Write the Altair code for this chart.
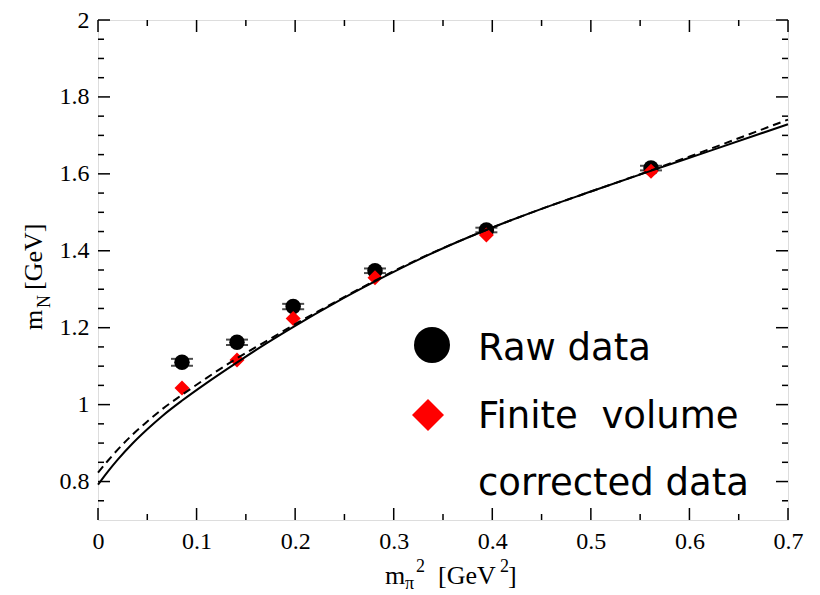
import altair as alt
import pandas as pd

# ---- data ----
m_pi2 = [0.0852, 0.141, 0.198, 0.281, 0.394, 0.561]
raw_mN = [1.110, 1.162, 1.255, 1.348, 1.454, 1.615]
raw_err = [0.009, 0.007, 0.007, 0.006, 0.006, 0.006]
fv_mN = [1.043, 1.116, 1.224, 1.330, 1.441, 1.607]

curve_x = [0.000, 0.010, 0.020, 0.035, 0.050, 0.065, 0.085, 0.110, 0.140, 0.170,
           0.200, 0.240, 0.280, 0.330, 0.390, 0.450, 0.500, 0.560, 0.620, 0.700]
solid_fit = [0.792, 0.826, 0.857, 0.899, 0.936, 0.970, 1.010, 1.056, 1.108, 1.158,
             1.205, 1.264, 1.319, 1.383, 1.450, 1.509, 1.554, 1.607, 1.659, 1.729]
dashed_fit = [0.823, 0.854, 0.883, 0.922, 0.956, 0.988, 1.025, 1.069, 1.119, 1.164,
              1.209, 1.266, 1.321, 1.384, 1.450, 1.509, 1.554, 1.608, 1.664, 1.741]

x_major = [0.0, 0.1, 0.2, 0.3, 0.4, 0.5, 0.6, 0.7]
x_minor = [0.05, 0.15, 0.25, 0.35, 0.45, 0.55, 0.65]
y_major = [0.8, 1.0, 1.2, 1.4, 1.6, 1.8, 2.0]
y_minor = [0.75, 0.85, 0.9, 0.95, 1.05, 1.1, 1.15, 1.25, 1.3, 1.35, 1.45, 1.5,
           1.55, 1.65, 1.7, 1.75, 1.85, 1.9, 1.95]

legend_labels = ["Raw data", "Finite\u00a0\u00a0volume", "corrected data"]

# ---- layout ----
W, H = 690, 500
SERIF = "Liberation Serif"
SANS = "DejaVu Sans"

xs = alt.Scale(domain=[0, 0.7], nice=False, zero=False)
ys = alt.Scale(domain=[0.7, 2.0], nice=False, zero=False)
xaxis = alt.Axis(values=x_major, format="~g", title=None, ticks=False, domain=False,
                 grid=False, labelFont=SERIF, labelFontSize=24, labelColor="black",
                 labelPadding=9, labelFlush=False)
yaxis = alt.Axis(values=y_major, format="~g", title=None, ticks=False, domain=False,
                 grid=False, labelFont=SERIF, labelFontSize=24, labelColor="black",
                 labelPadding=9, labelFlush=False)

pts = pd.DataFrame({"x": m_pi2, "raw": raw_mN, "fv": fv_mN,
                    "lo": [r - e for r, e in zip(raw_mN, raw_err)],
                    "hi": [r + e for r, e in zip(raw_mN, raw_err)]})
caps = pd.DataFrame({"x": m_pi2 + m_pi2, "y": list(pts["lo"]) + list(pts["hi"])})
curves = pd.DataFrame({"x": curve_x, "solid": solid_fit, "dashed": dashed_fit})

X = lambda f: alt.X(f, scale=xs, axis=xaxis)
Y = lambda f: alt.Y(f, scale=ys, axis=yaxis)

layers = []

# inward ticks on all four sides
def xticks(vals, length):
    df = pd.DataFrame({"v": vals})
    b = alt.Chart(df).mark_rule(color="black", strokeWidth=1.5)
    return [b.encode(x=X("v:Q"), y=alt.value(H), y2=alt.value(H - length)),
            b.encode(x=X("v:Q"), y=alt.value(0), y2=alt.value(length))]

def yticks(vals, length):
    df = pd.DataFrame({"v": vals})
    b = alt.Chart(df).mark_rule(color="black", strokeWidth=1.5)
    return [b.encode(y=Y("v:Q"), x=alt.value(0), x2=alt.value(length)),
            b.encode(y=Y("v:Q"), x=alt.value(W), x2=alt.value(W - length))]

layers += xticks(x_major, 12) + xticks(x_minor, 6) + yticks(y_major, 12) + yticks(y_minor, 6)

# error bars of raw data
layers.append(alt.Chart(pts).mark_rule(color="black", strokeWidth=1.5)
              .encode(x=X("x:Q"), y=Y("lo:Q"), y2="hi:Q"))
layers.append(alt.Chart(caps).mark_tick(orient="horizontal", size=22, thickness=2, color="black")
              .encode(x=X("x:Q"), y=Y("y:Q")))
# raw data circles
layers.append(alt.Chart(pts).mark_point(shape="circle", filled=True, size=240, color="black", opacity=1)
              .encode(x=X("x:Q"), y=Y("raw:Q")))
# finite-volume corrected diamonds
layers.append(alt.Chart(pts).mark_point(shape="diamond", filled=True, size=225, color="#ff0000", opacity=1)
              .encode(x=X("x:Q"), y=Y("fv:Q")))
# fit curves
layers.append(alt.Chart(curves).mark_line(color="black", strokeWidth=2, interpolate="monotone")
              .encode(x=X("x:Q"), y=Y("solid:Q")))
layers.append(alt.Chart(curves).mark_line(color="black", strokeWidth=2, strokeDash=[8, 5],
                                          interpolate="monotone")
              .encode(x=X("x:Q"), y=Y("dashed:Q")))

# legend
one = pd.DataFrame({"a": [0]})
layers.append(alt.Chart(one).mark_point(shape="circle", filled=True, size=1296, color="black", opacity=1)
              .encode(x=alt.value(334), y=alt.value(325)))
layers.append(alt.Chart(one).mark_point(shape="diamond", filled=True, size=1024, color="#ff0000", opacity=1)
              .encode(x=alt.value(330), y=alt.value(395)))

def text(t, x, y, size, font, angle=0):
    return (alt.Chart(pd.DataFrame({"t": [t]}))
            .mark_text(font=font, fontSize=size, angle=angle, align="left",
                       baseline="alphabetic", color="black")
            .encode(x=alt.value(x), y=alt.value(y), text="t:N"))

for lab, yb in zip(legend_labels, [340, 408, 475]):
    layers.append(text(lab, 380, yb, 37, SANS))

# x-axis title: m_pi^2 [GeV^2]
layers.append(text("m", 287, 564, 26, SERIF))
layers.append(text("π", 307, 569, 18, SERIF))
layers.append(text("2", 318, 552, 18, SERIF))
layers.append(text("[GeV", 340, 564, 26, SERIF))
layers.append(text("2", 402, 552, 18, SERIF))
layers.append(text("]", 410, 564, 26, SERIF))

# y-axis title: m_N [GeV] (rotated)
layers.append(text("m", -56, 310, 26, SERIF, angle=270))
layers.append(text("N", -48, 288, 18, SERIF, angle=270))
layers.append(text("[GeV]", -56, 270, 26, SERIF, angle=270))

chart = (alt.layer(*layers)
         .properties(width=W, height=H,
                     autosize=alt.AutoSizeParams(type="none"),
                     padding={"left": 90, "top": 12, "right": 24, "bottom": 75})
         .configure_view(stroke="black", strokeWidth=2)
         .configure(background="white"))

chart.save("out.html", embed_options={"renderer": "svg", "actions": False})
